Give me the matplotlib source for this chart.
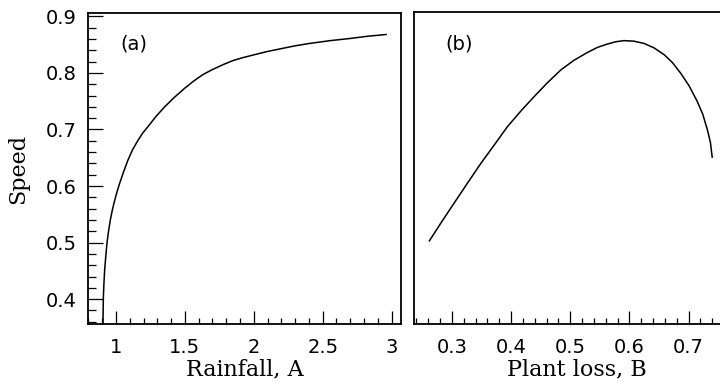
import numpy as np
import matplotlib
matplotlib.use('Agg')
import matplotlib.pyplot as plt
from matplotlib.ticker import MultipleLocator

# -- data
rain = [0.906, 0.907, 0.908, 0.912, 0.918, 0.926, 0.935, 0.946, 0.959, 0.974,
        0.991, 1.008, 1.027, 1.055, 1.087, 1.120, 1.160, 1.195, 1.232, 1.290,
        1.353, 1.420, 1.499, 1.560, 1.630, 1.700, 1.780, 1.850, 1.920, 2.000,
        2.100, 2.200, 2.300, 2.400, 2.550, 2.700, 2.830, 2.960]
speed_a = [0.356, 0.380, 0.400, 0.425, 0.452, 0.476, 0.500, 0.520, 0.540, 0.558,
           0.575, 0.590, 0.605, 0.625, 0.646, 0.664, 0.681, 0.694, 0.705, 0.723,
           0.740, 0.756, 0.773, 0.785, 0.797, 0.806, 0.815, 0.822, 0.827, 0.832,
           0.838, 0.843, 0.848, 0.852, 0.857, 0.861, 0.865, 0.868]

loss = [0.262, 0.283, 0.304, 0.327, 0.349, 0.372, 0.394, 0.417, 0.439, 0.461,
        0.484, 0.506, 0.529, 0.546, 0.563, 0.577, 0.591, 0.608, 0.625, 0.642,
        0.659, 0.673, 0.687, 0.701, 0.715, 0.724, 0.732, 0.737, 0.740]
speed_b = [0.503, 0.537, 0.570, 0.606, 0.640, 0.673, 0.705, 0.733, 0.758, 0.782,
           0.805, 0.822, 0.836, 0.845, 0.851, 0.855, 0.857, 0.856, 0.852, 0.844,
           0.832, 0.818, 0.799, 0.777, 0.749, 0.727, 0.699, 0.677, 0.651]

W, H = 720., 385.
fig = plt.figure(figsize=(7.2, 3.85), dpi=100)
axa = fig.add_axes([88/W, 61/H, 313/W, 311/H])
axb = fig.add_axes([414/W, 61/H, 326/W, 312.5/H])

tickfont = dict(family='DejaVu Sans', size=14)
labfont = dict(family='DejaVu Serif', size=16)

for ax in (axa, axb):
    for s in ax.spines.values():
        s.set_linewidth(1.3)
    ax.tick_params(which='both', direction='in', top=False, right=False,
                   width=0.9, labelsize=14)
    ax.tick_params(axis='x', which='major', length=9.5, pad=10)
    ax.tick_params(axis='x', which='minor', length=4.5)
    ax.tick_params(axis='y', which='major', length=10.8, pad=8)
    ax.tick_params(axis='y', which='minor', length=5.6)

# -- panel (a)
axa.plot(rain, speed_a, color='black', lw=1.1)
axa.set_xlim(0.797, 3.068)
axa.set_ylim(0.356, 0.906)
axa.xaxis.set_major_locator(MultipleLocator(0.5))
axa.xaxis.set_minor_locator(MultipleLocator(0.1))
axa.yaxis.set_major_locator(MultipleLocator(0.1))
axa.yaxis.set_minor_locator(MultipleLocator(0.02))
axa.set_xticks([1, 1.5, 2, 2.5, 3], ['1', '1.5', '2', '2.5', '3'])
axa.set_xlabel('Rainfall, A', **labfont, labelpad=1)
axa.set_ylabel('Speed', **labfont, labelpad=12)
axa.text(1.03, 0.851, '(a)', va='center', ha='left', **tickfont)

# -- panel (b)
axb.plot(loss, speed_b, color='black', lw=1.1)
axb.set_xlim(0.236, 0.787)
axb.set_ylim(0.356, 0.9085)
axb.xaxis.set_major_locator(MultipleLocator(0.1))
axb.xaxis.set_minor_locator(MultipleLocator(0.02))
axb.set_yticks([])
axb.set_xlabel('Plant loss, B', **labfont, labelpad=1)
axb.text(0.289, 0.851, '(b)', va='center', ha='left', **tickfont)

for ax in (axa, axb):
    for lab in ax.get_xticklabels() + ax.get_yticklabels():
        lab.set_family('DejaVu Sans')

fig.savefig('out.png', dpi=100)
